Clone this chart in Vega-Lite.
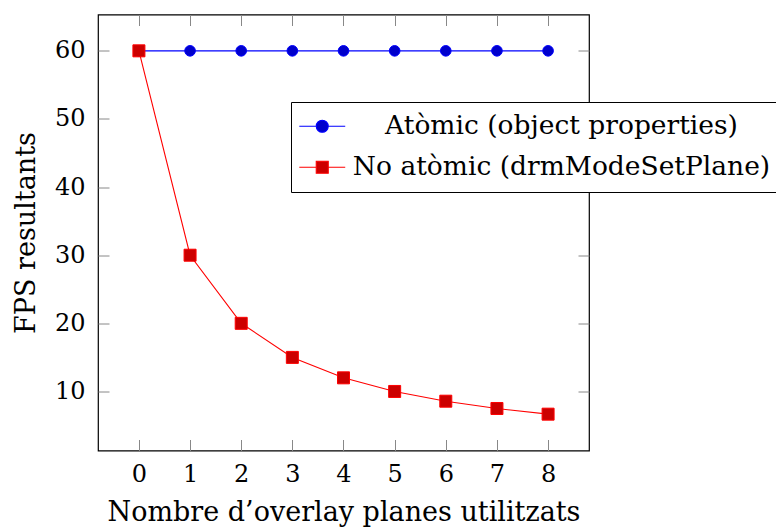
{
  "$schema": "https://vega.github.io/schema/vega-lite/v6.json",
  "width": 491,
  "height": 436,
  "autosize": {"type": "none"},
  "padding": {"left": 98, "top": 14.5, "right": 187, "bottom": 78.5},
  "background": "white",
  "config": {
    "font": "DejaVu Serif",
    "view": {"stroke": "black", "strokeWidth": 1.2},
    "axis": {
      "domain": false,
      "grid": false,
      "tickColor": "#888888",
      "tickWidth": 1,
      "tickSize": -11,
      "labelFont": "DejaVu Serif",
      "labelFontSize": 24,
      "labelColor": "black",
      "titleFont": "DejaVu Serif",
      "titleFontSize": 27,
      "titleFontWeight": "normal",
      "titleColor": "black"
    },
    "legend": {
      "orient": "none",
      "legendX": 193,
      "legendY": 87.5,
      "fillColor": "white",
      "strokeColor": "black",
      "padding": 11,
      "symbolOffset": 7,
      "symbolSize": 144,
      "symbolStrokeWidth": 1.1,
      "symbolOpacity": 1,
      "labelFont": "DejaVu Serif",
      "labelFontSize": 26.5,
      "labelColor": "black",
      "labelLimit": 600,
      "labelAlign": "center",
      "labelOffset": 226,
      "rowPadding": 14
    }
  },
  "data": {
    "values": [
      {"n": 0, "fps": 60, "serie": "Atòmic (object properties)"},
      {"n": 1, "fps": 60, "serie": "Atòmic (object properties)"},
      {"n": 2, "fps": 60, "serie": "Atòmic (object properties)"},
      {"n": 3, "fps": 60, "serie": "Atòmic (object properties)"},
      {"n": 4, "fps": 60, "serie": "Atòmic (object properties)"},
      {"n": 5, "fps": 60, "serie": "Atòmic (object properties)"},
      {"n": 6, "fps": 60, "serie": "Atòmic (object properties)"},
      {"n": 7, "fps": 60, "serie": "Atòmic (object properties)"},
      {"n": 8, "fps": 60, "serie": "Atòmic (object properties)"},
      {"n": 0, "fps": 60, "serie": "No atòmic (drmModeSetPlane)"},
      {"n": 1, "fps": 30, "serie": "No atòmic (drmModeSetPlane)"},
      {"n": 2, "fps": 20, "serie": "No atòmic (drmModeSetPlane)"},
      {"n": 3, "fps": 15, "serie": "No atòmic (drmModeSetPlane)"},
      {"n": 4, "fps": 12, "serie": "No atòmic (drmModeSetPlane)"},
      {"n": 5, "fps": 10, "serie": "No atòmic (drmModeSetPlane)"},
      {"n": 6, "fps": 8.571, "serie": "No atòmic (drmModeSetPlane)"},
      {"n": 7, "fps": 7.5, "serie": "No atòmic (drmModeSetPlane)"},
      {"n": 8, "fps": 6.667, "serie": "No atòmic (drmModeSetPlane)"}
    ]
  },
  "layer": [
    {
      "mark": {"type": "line", "strokeWidth": 1.1},
      "encoding": {
        "x": {
          "field": "n", "type": "quantitative",
          "scale": {"domain": [-0.8, 8.8], "nice": false, "zero": false},
          "axis": {"orient": "bottom", "values": [0, 1, 2, 3, 4, 5, 6, 7, 8], "labelPadding": 23, "title": "Nombre d’overlay planes utilitzats", "titlePadding": 13}
        },
        "y": {
          "field": "fps", "type": "quantitative",
          "scale": {"domain": [1.333, 65.333], "nice": false, "zero": false},
          "axis": {"orient": "left", "values": [10, 20, 30, 40, 50, 60], "labelPadding": 24, "title": "FPS resultants", "titlePadding": 14}
        },
        "stroke": {
          "field": "serie", "type": "nominal",
          "scale": {"domain": ["Atòmic (object properties)", "No atòmic (drmModeSetPlane)"], "range": ["#0000ff", "#ff0000"]},
          "legend": {
            "title": null,
            "symbolType": {"expr": "datum.index === 0 ? 'M-3.83,0H-1M3.83,0H1M1,0A1,1,0,1,1,-1,0A1,1,0,1,1,1,0Z' : 'M-3.83,0H-1M3.83,0H1M-1,-1H1V1H-1Z'"}
          }
        }
      }
    },
    {
      "transform": [{"filter": "datum.serie === 'Atòmic (object properties)'"}],
      "mark": {"type": "point", "filled": true, "opacity": 1, "strokeWidth": 1, "shape": "circle", "size": 113},
      "encoding": {
        "x": {
          "field": "n", "type": "quantitative",
          "axis": {"orient": "top", "values": [0, 1, 2, 3, 4, 5, 6, 7, 8], "labels": false, "title": null}
        },
        "y": {
          "field": "fps", "type": "quantitative",
          "axis": {"orient": "right", "values": [10, 20, 30, 40, 50, 60], "labels": false, "title": null}
        },
        "stroke": {"field": "serie", "type": "nominal", "legend": {"title": null, "symbolType": {"expr": "datum.index === 0 ? 'M-3.83,0H-1M3.83,0H1M1,0A1,1,0,1,1,-1,0A1,1,0,1,1,1,0Z' : 'M-3.83,0H-1M3.83,0H1M-1,-1H1V1H-1Z'"}}},
        "fill": {
          "field": "serie", "type": "nominal",
          "scale": {"domain": ["Atòmic (object properties)", "No atòmic (drmModeSetPlane)"], "range": ["#0000cc", "#cc0000"]},
          "legend": {"title": null, "symbolType": {"expr": "datum.index === 0 ? 'M-3.83,0H-1M3.83,0H1M1,0A1,1,0,1,1,-1,0A1,1,0,1,1,1,0Z' : 'M-3.83,0H-1M3.83,0H1M-1,-1H1V1H-1Z'"}}
        }
      }
    },
    {
      "transform": [{"filter": "datum.serie === 'No atòmic (drmModeSetPlane)'"}],
      "mark": {"type": "point", "filled": true, "opacity": 1, "strokeWidth": 1, "shape": "square", "size": 144},
      "encoding": {
        "x": {"field": "n", "type": "quantitative", "axis": null},
        "y": {"field": "fps", "type": "quantitative", "axis": null},
        "stroke": {"field": "serie", "type": "nominal", "legend": {"title": null, "symbolType": {"expr": "datum.index === 0 ? 'M-3.83,0H-1M3.83,0H1M1,0A1,1,0,1,1,-1,0A1,1,0,1,1,1,0Z' : 'M-3.83,0H-1M3.83,0H1M-1,-1H1V1H-1Z'"}}},
        "fill": {"field": "serie", "type": "nominal", "legend": {"title": null, "symbolType": {"expr": "datum.index === 0 ? 'M-3.83,0H-1M3.83,0H1M1,0A1,1,0,1,1,-1,0A1,1,0,1,1,1,0Z' : 'M-3.83,0H-1M3.83,0H1M-1,-1H1V1H-1Z'"}}}
      }
    }
  ],
  "resolve": {"axis": {"x": "independent", "y": "independent"}}
}
